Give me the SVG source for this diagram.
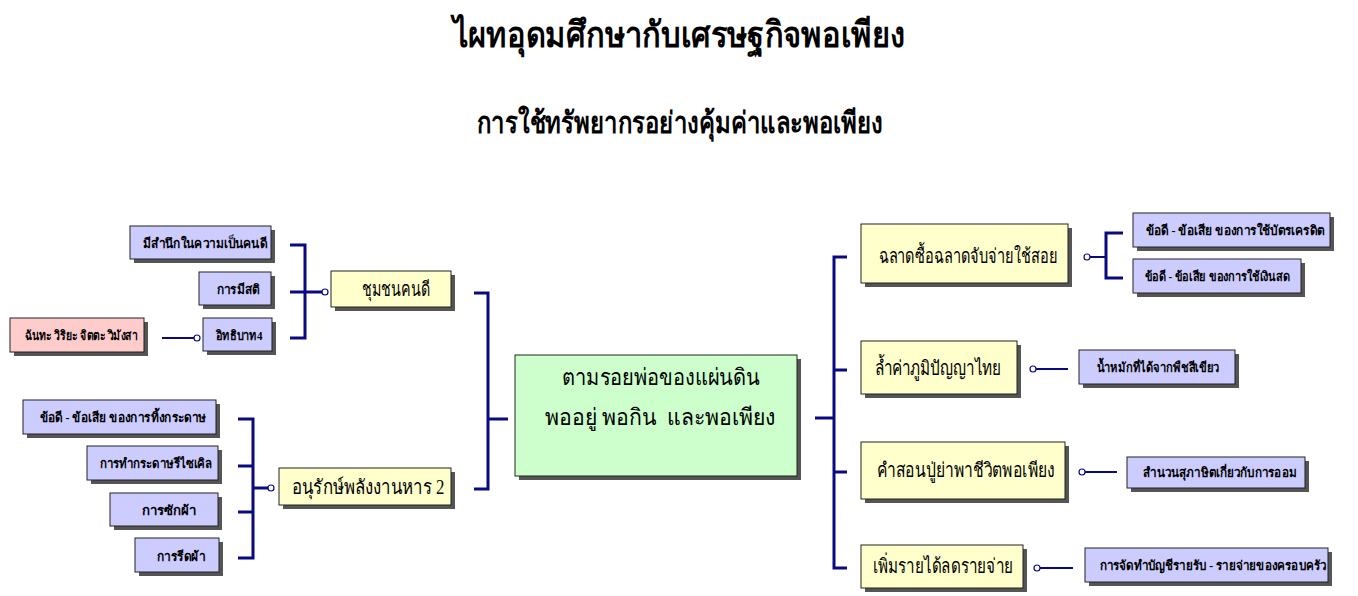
<svg xmlns="http://www.w3.org/2000/svg" width="1358" height="596" viewBox="0 0 1358 596">
<style>
text{font-family:"Liberation Serif","Noto Sans",serif;fill:#000;text-anchor:middle}
.title{font-size:36px;font-weight:bold}
.sub{font-size:30px;font-weight:bold}
.sm{font-size:13px;font-weight:bold}
.md{font-size:20px}
.lg{font-size:23px;white-space:pre}
.sh{fill:#555}
.bx{stroke:#222;stroke-width:1}
.y{fill:#FFFFCC}
.b{fill:#CCCCFF}
.p{fill:#FFCCCC}
.g{fill:#CCFFCC}
.c{fill:none;stroke:#0a0a80;stroke-width:3}
.t{fill:none;stroke:#0a0a80;stroke-width:2}
.o{fill:#fff;stroke:#0a0a80;stroke-width:1.2}
</style>
<rect width="1358" height="596" fill="#fff"/>
<text class="title" x="679" y="47" textLength="452" lengthAdjust="spacingAndGlyphs">ไผทอุดมศึกษากับเศรษฐกิจพอเพียง</text>
<text class="sub" x="680" y="133" textLength="406" lengthAdjust="spacingAndGlyphs">การใช้ทรัพยากรอย่างคุ้มค่าและพอเพียง</text>

<g id="connectors">
<path class="c" d="M290 245H305V338H290M290 292H322"/>
<path class="t" d="M162 338H190L197 338"/>
<path class="c" d="M238 419H253V558H238M238 466H253M238 512H253M253 488H268"/>
<path class="c" d="M474 293H488V489H474M488 419H508"/>
<path class="c" d="M815 418H834M847 257H834V568H847M834 370H847M834 472H847"/>
<path class="t" d="M1090 257H1106"/>
<path class="c" d="M1123 233H1106V278H1123"/>
<path class="t" d="M1036 369H1068"/>
<path class="t" d="M1085 472H1117"/>
<path class="t" d="M1040 568H1073"/>
<circle class="o" cx="325" cy="292" r="3"/>
<circle class="o" cx="197" cy="338" r="3"/>
<circle class="o" cx="271" cy="488" r="3"/>
<circle class="o" cx="1087" cy="257" r="3"/>
<circle class="o" cx="1033" cy="369" r="3"/>
<circle class="o" cx="1082" cy="472" r="3"/>
<circle class="o" cx="1037" cy="568" r="3"/>
</g>

<g id="n-center">
<rect class="sh" x="519" y="359" width="282" height="121"/>
<rect class="bx g" x="515" y="355" width="282" height="121"/>
<text class="lg" x="661" y="385" textLength="198" lengthAdjust="spacingAndGlyphs">ตามรอยพ่อของแผ่นดิน</text>
<text class="lg" x="660" y="425" textLength="230" lengthAdjust="spacingAndGlyphs">พออยู่ พอกิน  และพอเพียง</text>
</g>

<g id="n-chumchon">
<rect class="sh" x="335" y="275" width="120" height="36"/>
<rect class="bx y" x="331" y="271" width="120" height="36"/>
<text class="md" x="396" y="296" textLength="68" lengthAdjust="spacingAndGlyphs">ชุมชนคนดี</text>
</g>
<g id="n-samnuek">
<rect class="sh" x="134" y="230" width="141" height="33"/>
<rect class="bx b" x="130" y="226" width="141" height="33"/>
<text class="sm" x="205" y="248" textLength="124" lengthAdjust="spacingAndGlyphs">มีสำนึกในความเป็นคนดี</text>
</g>
<g id="n-sati">
<rect class="sh" x="203" y="276" width="72" height="33"/>
<rect class="bx b" x="199" y="272" width="72" height="33"/>
<text class="sm" x="238" y="294" textLength="43" lengthAdjust="spacingAndGlyphs">การมีสติ</text>
</g>
<g id="n-itthibat">
<rect class="sh" x="207" y="322" width="69" height="33"/>
<rect class="bx b" x="203" y="318" width="69" height="33"/>
<text class="sm" x="239" y="340" textLength="47" lengthAdjust="spacingAndGlyphs">อิทธิบาท4</text>
</g>
<g id="n-chanta">
<rect class="sh" x="14" y="322" width="134" height="34"/>
<rect class="bx p" x="10" y="318" width="134" height="34"/>
<text class="sm" x="81" y="340" font-weight="normal" textLength="113" lengthAdjust="spacingAndGlyphs">ฉันทะ วิริยะ จิตตะ วิมังสา</text>
</g>

<g id="n-anurak">
<rect class="sh" x="283" y="472" width="172" height="37"/>
<rect class="bx y" x="279" y="468" width="172" height="37"/>
<text class="md" x="368" y="494" textLength="153" lengthAdjust="spacingAndGlyphs">อนุรักษ์พลังงานหาร 2</text>
</g>
<g id="n-thing">
<rect class="sh" x="27" y="404" width="193" height="34"/>
<rect class="bx b" x="23" y="400" width="193" height="34"/>
<text class="sm" x="123" y="422" textLength="167" lengthAdjust="spacingAndGlyphs">ข้อดี - ข้อเสีย ของการทิ้งกระดาษ</text>
</g>
<g id="n-recycle">
<rect class="sh" x="91" y="450" width="131" height="34"/>
<rect class="bx b" x="87" y="446" width="131" height="34"/>
<text class="sm" x="156" y="468" textLength="113" lengthAdjust="spacingAndGlyphs">การทำกระดาษรีไซเคิล</text>
</g>
<g id="n-sak">
<rect class="sh" x="114" y="497" width="108" height="33"/>
<rect class="bx b" x="110" y="493" width="108" height="33"/>
<text class="sm" x="169" y="515" textLength="55" lengthAdjust="spacingAndGlyphs">การซักผ้า</text>
</g>
<g id="n-rit">
<rect class="sh" x="139" y="542" width="84" height="34"/>
<rect class="bx b" x="135" y="538" width="84" height="34"/>
<text class="sm" x="181" y="561" textLength="48" lengthAdjust="spacingAndGlyphs">การรีดผ้า</text>
</g>

<g id="n-chalat">
<rect class="sh" x="865" y="228" width="207" height="59"/>
<rect class="bx y" x="861" y="224" width="207" height="59"/>
<text class="md" x="968" y="263" textLength="179" lengthAdjust="spacingAndGlyphs">ฉลาดซื้อฉลาดจับจ่ายใช้สอย</text>
</g>
<g id="n-credit">
<rect class="sh" x="1137" y="217" width="197" height="34"/>
<rect class="bx b" x="1133" y="213" width="197" height="34"/>
<text class="sm" x="1235" y="235" textLength="179" lengthAdjust="spacingAndGlyphs">ข้อดี - ข้อเสีย ของการใช้บัตรเครดิต</text>
</g>
<g id="n-cash">
<rect class="sh" x="1137" y="263" width="168" height="34"/>
<rect class="bx b" x="1133" y="259" width="168" height="34"/>
<text class="sm" x="1217" y="281" textLength="145" lengthAdjust="spacingAndGlyphs">ข้อดี - ข้อเสีย ของการใช้เงินสด</text>
</g>
<g id="n-lamkha">
<rect class="sh" x="865" y="345" width="156" height="53"/>
<rect class="bx y" x="861" y="341" width="156" height="53"/>
<text class="md" x="938" y="375" textLength="127" lengthAdjust="spacingAndGlyphs">ล้ำค่าภูมิปัญญาไทย</text>
</g>
<g id="n-nammak">
<rect class="sh" x="1083" y="354" width="156" height="34"/>
<rect class="bx b" x="1079" y="350" width="156" height="34"/>
<text class="sm" x="1158" y="372" textLength="123" lengthAdjust="spacingAndGlyphs">น้ำหมักที่ได้จากพืชสีเขียว</text>
</g>
<g id="n-khamson">
<rect class="sh" x="865" y="446" width="204" height="57"/>
<rect class="bx y" x="861" y="442" width="204" height="57"/>
<text class="md" x="966" y="477" textLength="178" lengthAdjust="spacingAndGlyphs">คำสอนปู่ย่าพาชีวิตพอเพียง</text>
</g>
<g id="n-samnuan">
<rect class="sh" x="1131" y="461" width="178" height="31"/>
<rect class="bx b" x="1127" y="457" width="178" height="31"/>
<text class="sm" x="1220" y="477" textLength="154" lengthAdjust="spacingAndGlyphs">สำนวนสุภาษิตเกี่ยวกับการออม</text>
</g>
<g id="n-phoem">
<rect class="sh" x="865" y="549" width="162" height="43"/>
<rect class="bx y" x="861" y="545" width="162" height="43"/>
<text class="md" x="943" y="573" textLength="140" lengthAdjust="spacingAndGlyphs">เพิ่มรายได้ลดรายจ่าย</text>
</g>
<g id="n-banchi">
<rect class="sh" x="1089" y="552" width="243" height="34"/>
<rect class="bx b" x="1085" y="548" width="243" height="34"/>
<text class="sm" x="1213" y="570" textLength="227" lengthAdjust="spacingAndGlyphs">การจัดทำบัญชีรายรับ - รายจ่ายของครอบครัว</text>
</g>
</svg>
